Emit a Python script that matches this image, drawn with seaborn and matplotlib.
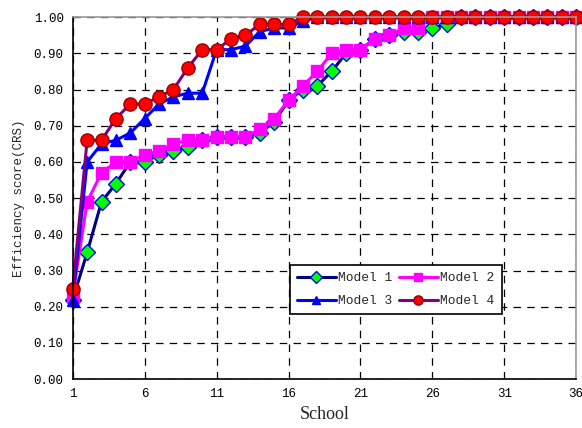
import numpy as np
import pandas as pd
import seaborn as sns
import matplotlib
matplotlib.use("Agg")
import matplotlib.pyplot as plt

schools = list(range(1, 37))

model_1 = [0.22, 0.35, 0.49, 0.54, 0.60, 0.60, 0.62, 0.63, 0.64, 0.66, 0.67, 0.67,
           0.67, 0.68, 0.71, 0.77, 0.80, 0.81, 0.85, 0.90, 0.91, 0.94, 0.95, 0.96,
           0.96, 0.97, 0.98, 1.00, 1.00, 1.00, 1.00, 1.00, 1.00, 1.00, 1.00, 1.00]
model_2 = [0.23, 0.49, 0.57, 0.60, 0.60, 0.62, 0.63, 0.65, 0.66, 0.66, 0.67, 0.67,
           0.67, 0.69, 0.72, 0.77, 0.81, 0.85, 0.90, 0.91, 0.91, 0.94, 0.95, 0.97,
           0.97, 1.00, 1.00, 1.00, 1.00, 1.00, 1.00, 1.00, 1.00, 1.00, 1.00, 1.00]
model_3 = [0.22, 0.60, 0.65, 0.66, 0.68, 0.72, 0.76, 0.78, 0.79, 0.79, 0.91, 0.91,
           0.92, 0.96, 0.97, 0.97, 0.99, 1.00, 1.00, 1.00, 1.00, 1.00, 1.00, 1.00,
           1.00, 1.00, 1.00, 1.00, 1.00, 1.00, 1.00, 1.00, 1.00, 1.00, 1.00, 1.00]
model_4 = [0.25, 0.66, 0.66, 0.72, 0.76, 0.76, 0.78, 0.80, 0.86, 0.91, 0.91, 0.94,
           0.95, 0.98, 0.98, 0.98, 1.00, 1.00, 1.00, 1.00, 1.00, 1.00, 1.00, 1.00,
           1.00, 1.00, 1.00, 1.00, 1.00, 1.00, 1.00, 1.00, 1.00, 1.00, 1.00, 1.00]

model_names = ["Model 1", "Model 2", "Model 3", "Model 4"]
x_ticks = [1, 6, 11, 16, 21, 26, 31, 36]
y_ticks = [0.0, 0.1, 0.2, 0.3, 0.4, 0.5, 0.6, 0.7, 0.8, 0.9, 1.0]

df = pd.DataFrame({
    "School": schools * 4,
    "Score": model_1 + model_2 + model_3 + model_4,
    "Model": [m for m in model_names for _ in schools],
})

styles = {
    "Model 1": dict(color="#000080", marker="D", mfc="#00ff00", mec="#0000ff", ms=8.5),
    "Model 2": dict(color="#ff00ff", marker="s", mfc="#ff00ff", mec="#ff00ff", ms=8),
    "Model 3": dict(color="#0000ff", marker="^", mfc="#0000ff", mec="#0000ff", ms=9),
    "Model 4": dict(color="#800080", marker="o", mfc="#ff0000", mec="#990000", ms=9.5),
}

sns.set_style("white")
plt.rcParams["font.family"] = ["Liberation Mono", "DejaVu Sans Mono"]

fig = plt.figure(figsize=(5.82, 4.28), dpi=100)
ax = fig.add_axes([0.125, 0.114, 0.865, 0.846])

for name in model_names:
    st = styles[name]
    sns.lineplot(data=df[df["Model"] == name], x="School", y="Score", ax=ax,
                 color=st["color"], marker=st["marker"], markersize=st["ms"],
                 markerfacecolor=st["mfc"], markeredgecolor=st["mec"],
                 markeredgewidth=1.0, linewidth=2.2, label=name, clip_on=False)

ax.set_xlim(1, 36)
ax.set_ylim(0, 1.0)
ax.set_xticks(x_ticks)
ax.set_yticks(y_ticks)
ax.set_yticklabels([f"{v:.2f}" for v in y_ticks])
ax.tick_params(direction="inout", length=6, width=1, labelsize=9, colors="black")
ax.grid(True, linestyle=(0, (6, 5)), color="black", linewidth=0.9)

for side in ["left", "bottom"]:
    ax.spines[side].set_color("black")
    ax.spines[side].set_linewidth(1.2)
for side in ["top", "right"]:
    ax.spines[side].set_color("#999999")
    ax.spines[side].set_linewidth(1.2)

ax.set_xlabel("School", fontsize=13, family=["Liberation Serif", "DejaVu Serif"], labelpad=4)
ax.set_ylabel("Efficiency score(CRS)", fontsize=9, labelpad=6)

# row-wise order: Model 1, Model 2 / Model 3, Model 4
handles, labels = ax.get_legend_handles_labels()
order = [0, 2, 1, 3]
leg = ax.legend([handles[i] for i in order], [labels[i] for i in order],
                loc="upper left", bbox_to_anchor=(0.431, 0.315), borderaxespad=0,
                ncol=2, fontsize=9.3, frameon=True, fancybox=False, edgecolor="black",
                framealpha=1, handlelength=3.0, columnspacing=0.5, borderpad=0.55,
                labelspacing=0.85, handletextpad=0.2, markerscale=0.7)
leg.get_frame().set_linewidth(1.2)

fig.savefig("out.png", dpi=100)
